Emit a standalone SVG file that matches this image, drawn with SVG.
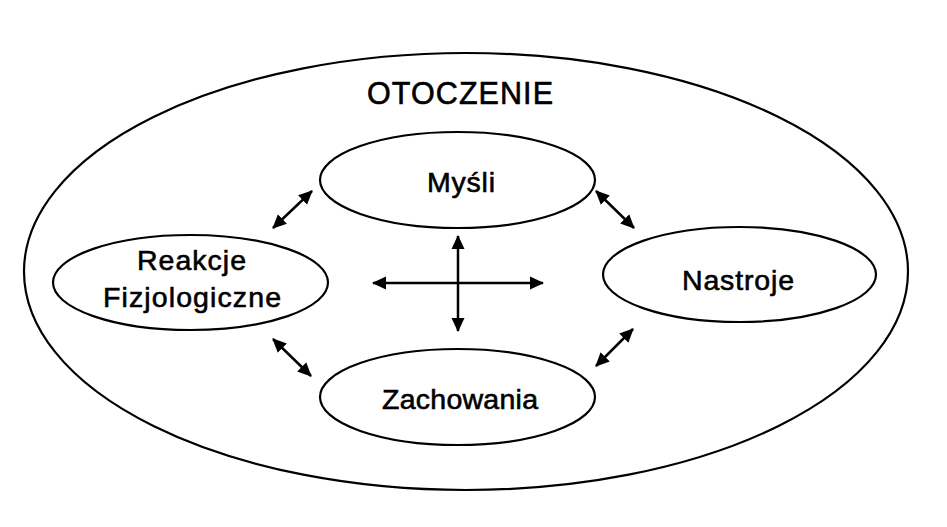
<svg xmlns="http://www.w3.org/2000/svg" width="947" height="527" viewBox="0 0 947 527">
<style>
.shape{fill:#ffffff;stroke:#000000;stroke-width:2.2}
.outer{fill:none;stroke:#000000;stroke-width:2.2}
.lbl{font-family:"Liberation Sans",Arial,Helvetica,sans-serif;font-size:28.5px;fill:#000000;stroke:#000000;stroke-width:0.6;text-anchor:middle}
.title{font-family:"Liberation Sans",Arial,Helvetica,sans-serif;font-size:30.5px;fill:#000000;stroke:#000000;stroke-width:0.6;text-anchor:middle}
.conn{stroke:#000000;stroke-width:2.5;fill:none;marker-start:url(#ah);marker-end:url(#ah)}
</style>
<defs>
<marker id="ah" markerUnits="userSpaceOnUse" markerWidth="16" markerHeight="16" refX="13" refY="6.5" orient="auto-start-reverse" viewBox="0 0 16 13">
<path d="M0,0 L14,6.5 L0,13 Z" fill="#000000"/>
</marker>
</defs>
<rect width="947" height="527" fill="#ffffff"/>
<g id="otoczenie">
<ellipse class="outer" cx="466" cy="271.5" rx="442" ry="218.5"/>
<text class="title" x="460" y="104" textLength="186">OTOCZENIE</text>
</g>
<g id="mysli">
<ellipse class="shape" cx="457.5" cy="180" rx="137.5" ry="48"/>
<text class="lbl" x="461" y="192" textLength="68">Myśli</text>
</g>
<g id="reakcje">
<ellipse class="shape" cx="190.5" cy="282.5" rx="137.5" ry="47.5"/>
<text class="lbl" x="191.5" y="270" textLength="109">Reakcje</text>
<text class="lbl" x="192" y="307" textLength="178">Fizjologiczne</text>
</g>
<g id="nastroje">
<ellipse class="shape" cx="739.5" cy="274.5" rx="136.5" ry="47.5"/>
<text class="lbl" x="738" y="290" textLength="112">Nastroje</text>
</g>
<g id="zachowania">
<ellipse class="shape" cx="457.5" cy="397" rx="137.5" ry="48"/>
<text class="lbl" x="460" y="409" textLength="156">Zachowania</text>
</g>
<g id="connectors">
<line class="conn" x1="273" y1="228" x2="312" y2="191"/>
<line class="conn" x1="596" y1="191" x2="634" y2="228"/>
<line class="conn" x1="273" y1="339" x2="311" y2="376"/>
<line class="conn" x1="596" y1="366" x2="633" y2="329"/>
<line class="conn" x1="458" y1="236" x2="458" y2="331"/>
<line class="conn" x1="373" y1="283" x2="543" y2="283"/>
</g>
</svg>
